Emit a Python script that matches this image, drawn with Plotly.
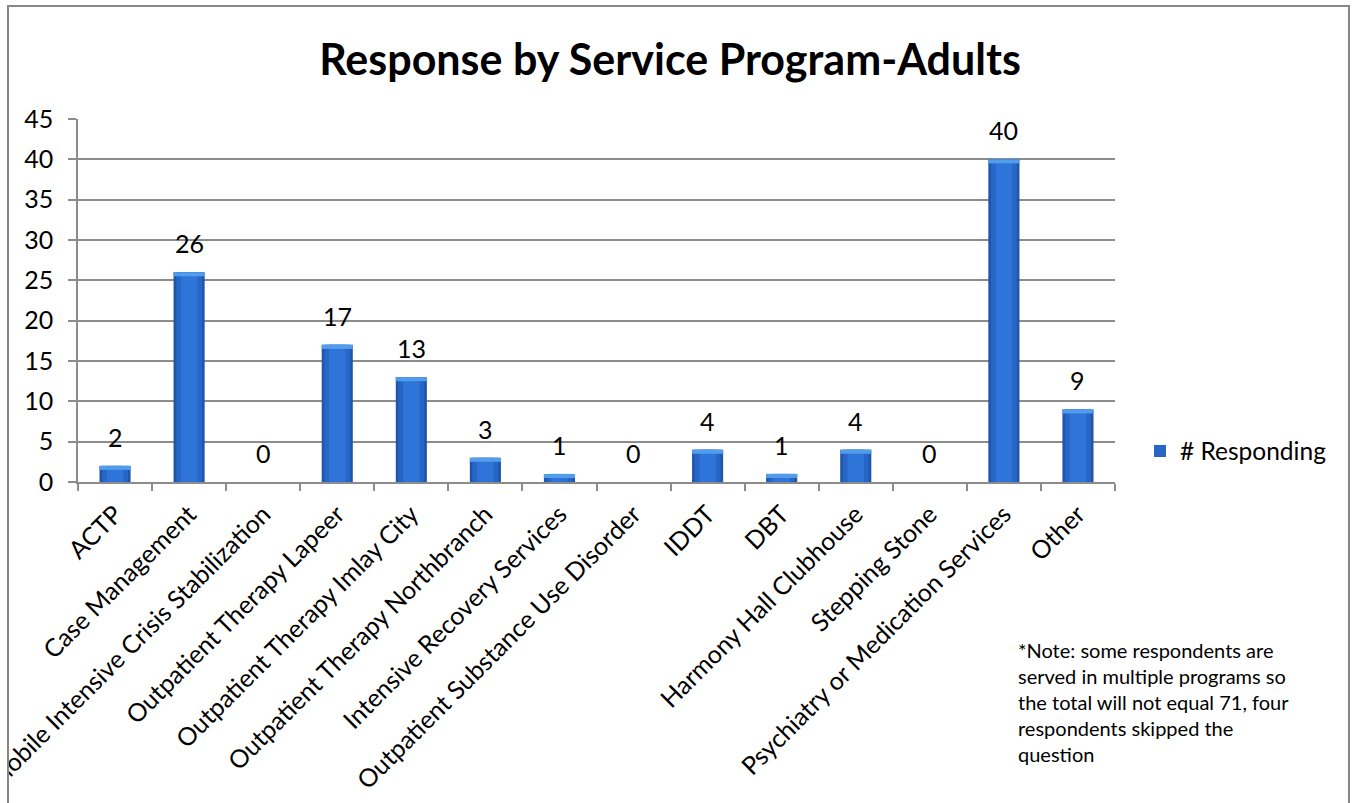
import plotly.graph_objects as go

# Survey results: number of adult respondents per service program
programs = [
    "ACTP",
    "Case Management",
    "Mobile Intensive Crisis Stabilization",
    "Outpatient Therapy Lapeer",
    "Outpatient Therapy Imlay City",
    "Outpatient Therapy Northbranch",
    "Intensive Recovery Services",
    "Outpatient Substance Use Disorder",
    "IDDT",
    "DBT",
    "Harmony Hall Clubhouse",
    "Stepping Stone",
    "Psychiatry or Medication Services",
    "Other",
]
responding = [2, 26, 0, 17, 13, 3, 1, 0, 4, 1, 4, 0, 40, 9]

series_name = "# Responding"
chart_title = "Response by Service Program-Adults"
note_lines = [
    "*Note: some respondents are",
    "served in multiple programs so",
    "the total will not equal 71, four",
    "respondents skipped the",
    "question",
]

FONT = "Lato, Carlito, Calibri, sans-serif"
W, H = 1356, 803
L, R, T, B = 78, 241, 119, 321
pw, ph = W - L - R, H - T - B


def px_x(x):
    return (x - L) / pw


def px_y(y):
    return (H - B - y) / ph


fig = go.Figure()

# Layered bars give the bevelled, shaded column look
fig.add_trace(go.Bar(x=programs, y=responding, width=0.42,
                     marker=dict(color="#1f56ab", line=dict(width=0)),
                     showlegend=False, hoverinfo="skip"))
fig.add_trace(go.Bar(x=programs, y=responding, width=0.35, name=series_name,
                     marker=dict(color="#2866c6", line=dict(width=0)),
                     showlegend=True))
fig.add_trace(go.Bar(x=programs, y=responding, width=0.22,
                     marker=dict(color="#2f75d9", line=dict(width=0)),
                     showlegend=False, hoverinfo="skip"))
# light cap at the top of every non-empty column
cap = 0.5
cap_progs = [p for p, v in zip(programs, responding) if v > 0]
cap_vals = [v for v in responding if v > 0]
fig.add_trace(go.Bar(x=cap_progs, y=[cap] * len(cap_vals),
                     base=[v - cap for v in cap_vals], width=0.42,
                     marker=dict(color="#529cec", line=dict(width=0)),
                     showlegend=False, hoverinfo="skip"))

# value labels above each column
for p, v in zip(programs, responding):
    fig.add_annotation(x=p, y=v, text=str(v), showarrow=False,
                       yanchor="bottom", yshift=12,
                       font=dict(family=FONT, size=25, color="#000"))

fig.add_annotation(xref="paper", yref="paper", x=px_x(1016), y=px_y(636),
                   xanchor="left", yanchor="top", align="left",
                   text="<br>".join(note_lines), showarrow=False,
                   font=dict(family=FONT, size=20, color="#000"))

grid = "#8c8c8c"
fig.update_layout(
    width=W, height=H,
    margin=dict(l=L, r=R, t=T, b=B, autoexpand=False),
    paper_bgcolor="white", plot_bgcolor="white",
    barmode="overlay",
    font=dict(family=FONT, size=25, color="#000"),
    title=dict(text="<b>" + chart_title + "</b>", x=670 / W, xanchor="center",
               xref="container", yref="container", y=1 - 60 / H,
               yanchor="middle", font=dict(family=FONT, size=43, color="#000")),
    xaxis=dict(type="category", tickangle=-45, showgrid=False,
               showline=True, linecolor=grid, linewidth=1.5,
               ticks="outside", tickson="boundaries", ticklen=7,
               tickcolor=grid, tickwidth=1.5, automargin=False,
               ticklabelstandoff=6,
               tickfont=dict(family=FONT, size=25, color="#000")),
    yaxis=dict(range=[0, 45], dtick=5, showgrid=True, gridcolor=grid,
               gridwidth=1.5, showline=True, linecolor=grid, linewidth=1.5,
               ticks="outside", ticklen=8, tickcolor=grid, tickwidth=1.5,
               zeroline=False, ticklabelstandoff=10, automargin=False,
               tickfont=dict(family=FONT, size=25, color="#000")),
    legend=dict(x=px_x(1140), y=px_y(451), xanchor="left", yanchor="middle",
                font=dict(family=FONT, size=24.5, color="#000"),
                bgcolor="rgba(0,0,0,0)"),
    shapes=[
        dict(type="rect", xref="paper", yref="paper", layer="above",
             x0=-0.3, x1=px_x(7), y0=-1.2, y1=1.6,
             fillcolor="white", line=dict(width=0)),
        dict(type="rect", xref="paper", yref="paper", layer="above",
             x0=px_x(8), x1=px_x(1349), y0=px_y(812), y1=px_y(6),
             line=dict(color="#878787", width=2)),
    ],
)

fig.write_html("out.html")
